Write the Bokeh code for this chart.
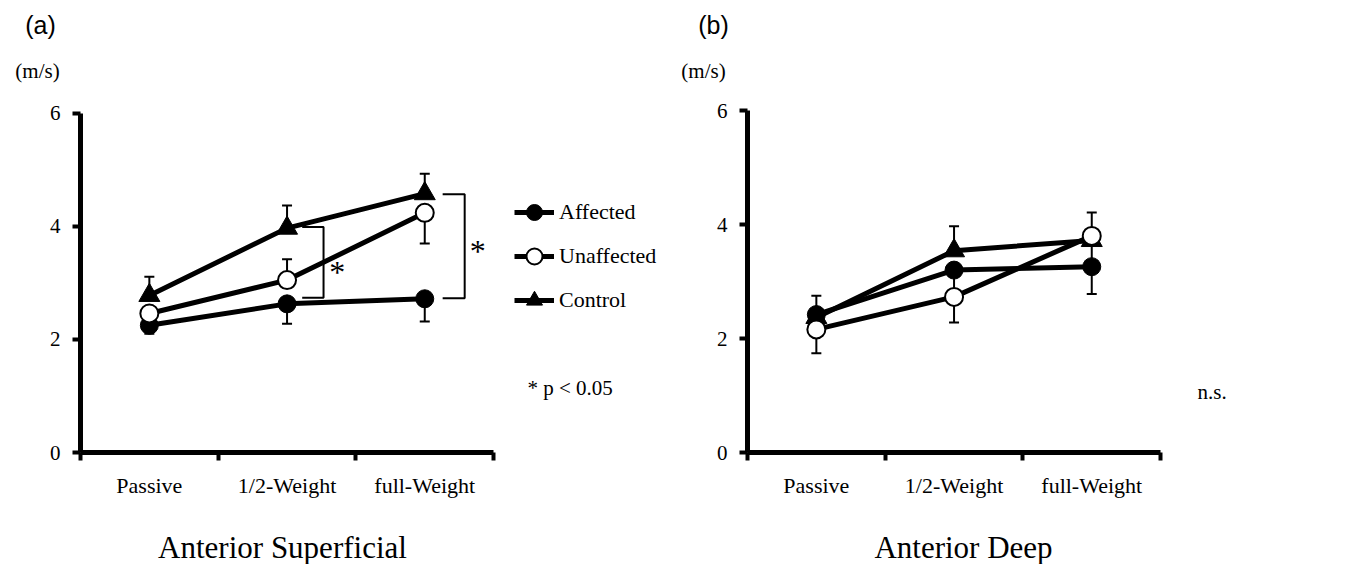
from bokeh.plotting import figure
from bokeh.layouts import row, column
from bokeh.models import (Range1d, FixedTicker, Legend, LegendItem, Label,
                          Whisker, TeeHead, ColumnDataSource)
from bokeh.embed import file_html
from bokeh.resources import INLINE

# ---------------- data ----------------
categories = ["Passive", "1/2-Weight", "full-Weight"]
series_names = ["Affected", "Unaffected", "Control"]
y_ticks = [0, 2, 4, 6]
panel_tags = ["(a)", "(b)"]
panel_titles = ["Anterior Superficial", "Anterior Deep"]
unit_label = "(m/s)"

# Anterior Superficial (m/s); error bars: + drawn upward, - drawn downward
sup_affected = [2.25, 2.63, 2.72]
sup_affected_err = [-0.15, -0.35, -0.40]
sup_unaffected = [2.46, 3.05, 4.24]
sup_unaffected_err = [-0.20, 0.37, -0.54]
sup_control = [2.78, 3.97, 4.58]
sup_control_err = [0.33, 0.40, 0.35]

# Anterior Deep (m/s)
deep_affected = [2.42, 3.20, 3.26]
deep_affected_err = [-0.25, -0.35, -0.48]
deep_unaffected = [2.16, 2.73, 3.80]
deep_unaffected_err = [-0.42, -0.45, -0.45]
deep_control = [2.37, 3.54, 3.72]
deep_control_err = [0.38, 0.43, 0.49]

# significance brackets in panel (a)
sig_categories = ["1/2-Weight", "full-Weight"]
sig_top = [3.99, 4.57]
sig_bottom = [2.74, 2.73]

SERIF = "Liberation Serif"
SANS = "Liberation Sans"
TOTAL_W, TOTAL_H = 1346, 564
TOP_H, BOT_H = 100, 44
W = TOTAL_W // 2
H = TOTAL_H - TOP_H - BOT_H
KX, KY = 137.7, 57.0
RIGHT_PAD = 12
SHIFT = 0.32  # baseline correction (fraction of font size) for rendered text


def text_strip(height, y0):
    """A frame-only figure whose data coordinates are the page pixels."""
    f = figure(width=TOTAL_W, height=height, title=None,
               x_range=Range1d(0, TOTAL_W), y_range=Range1d(y0 + height, y0),
               x_axis_location=None, y_axis_location=None,
               output_backend="svg", toolbar_location=None,
               min_border=0, min_border_left=0, min_border_right=0,
               min_border_top=0, min_border_bottom=0)
    f.grid.visible = False
    f.outline_line_color = None
    f.background_fill_color = "white"
    f.border_fill_color = "white"
    return f


def make_panel(L, B, sets, legend_left, note, note_xy):
    # L: frame left (px, inside this figure); B: frame bottom (page px)
    p = figure(width=W, height=H, title=None,
               x_range=Range1d(0, (W - L - RIGHT_PAD) / KX),
               y_range=Range1d(0, (B - TOP_H) / KY),
               output_backend="svg", toolbar_location=None,
               min_border_left=L, min_border_right=RIGHT_PAD, min_border_top=0,
               min_border_bottom=TOP_H + H - B)
    p.outline_line_color = None
    p.grid.visible = False
    p.background_fill_color = "white"
    p.border_fill_color = "white"

    def dx(px):
        return (px - L) / KX

    def dy(py):
        return (B - py) / KY

    xs = [i + 0.5 for i in range(len(categories))]

    xa = p.xaxis[0]
    xa.ticker = FixedTicker(ticks=xs, minor_ticks=list(range(len(categories) + 1)))
    xa.bounds = (0, len(categories))
    xa.major_label_overrides = {x: c for x, c in zip(xs, categories)}
    xa.axis_line_width = 5
    xa.axis_line_color = "black"
    xa.major_tick_line_color = None
    xa.major_tick_out = 0
    xa.major_tick_in = 0
    xa.minor_tick_out = 8
    xa.minor_tick_in = 0
    xa.minor_tick_line_width = 4
    xa.minor_tick_line_color = "black"
    xa.major_label_standoff = 12
    xa.major_label_text_font = SERIF
    xa.major_label_text_font_size = "22px"
    xa.major_label_text_color = "black"

    ya = p.yaxis[0]
    ya.ticker = FixedTicker(ticks=y_ticks)
    ya.bounds = (min(y_ticks), max(y_ticks))
    ya.axis_line_width = 5
    ya.axis_line_color = "black"
    ya.major_tick_out = 8
    ya.major_tick_in = 0
    ya.major_tick_line_width = 4
    ya.major_tick_line_color = "black"
    ya.minor_tick_line_color = None
    ya.major_label_standoff = 12
    ya.major_label_text_font = SERIF
    ya.major_label_text_font_size = "21px"
    ya.major_label_text_color = "black"

    for vals, errs in sets.values():
        up = dict(base=[], lower=[], upper=[])
        dn = dict(base=[], lower=[], upper=[])
        for x, v, e in zip(xs, vals, errs):
            d = up if e > 0 else dn
            d["base"].append(x)
            d["lower"].append(min(v, v + e))
            d["upper"].append(max(v, v + e))
        p.add_layout(Whisker(source=ColumnDataSource(up), base="base",
                             upper="upper", lower="lower",
                             upper_head=TeeHead(size=10, line_width=2),
                             lower_head=None, line_width=2, line_color="black"))
        p.add_layout(Whisker(source=ColumnDataSource(dn), base="base",
                             upper="upper", lower="lower",
                             lower_head=TeeHead(size=10, line_width=2),
                             upper_head=None, line_width=2, line_color="black"))

    styles = {
        "Affected": dict(marker="circle", size=18, fill_color="black", line_width=1),
        "Unaffected": dict(marker="circle", size=18, fill_color="white", line_width=2),
        "Control": dict(marker="triangle", size=21, fill_color="black", line_width=1),
    }
    rends = {}
    for name in ["Control", "Affected", "Unaffected"]:
        vals, _ = sets[name]
        lr = p.line(xs, vals, line_width=5, line_color="black")
        sr = p.scatter(xs, vals, line_color="black", **styles[name])
        rends[name] = [lr, sr]

    items = [LegendItem(label=n, renderers=rends[n]) for n in series_names]
    leg = Legend(items=items, location=(legend_left - L, B - 325),
                 glyph_width=40, glyph_height=44, spacing=0, padding=0, margin=0,
                 label_standoff=5, label_text_font=SERIF,
                 label_text_font_size="22px", label_text_color="black",
                 border_line_color=None, background_fill_alpha=0)
    p.add_layout(leg)

    p.add_layout(Label(x=dx(note_xy[0]), y=dy(note_xy[1] - SHIFT * 21), text=note,
                       text_font=SERIF, text_font_size="21px",
                       text_align="left", text_baseline="alphabetic",
                       text_color="black"))
    return p


pa = make_panel(80, 455,
                {"Affected": (sup_affected, sup_affected_err),
                 "Unaffected": (sup_unaffected, sup_unaffected_err),
                 "Control": (sup_control, sup_control_err)},
                514, "*  p < 0.05", (527, 397))

# significance brackets on panel (a)
left_off = [0.11, 0.13]
right_off = [0.265, 0.29]
star_off = [0.365, 0.385]
star_base = [3.2, 3.57]
bxs, bys = [], []
for cat, top, bot, lo, ro in zip(sig_categories, sig_top, sig_bottom, left_off, right_off):
    x = categories.index(cat) + 0.5
    bxs.append([x + lo, x + ro, x + ro, x + lo])
    bys.append([top, top, bot, bot])
pa.multi_line(bxs, bys, line_width=2, line_color="black")
for cat, so, sb in zip(sig_categories, star_off, star_base):
    x = categories.index(cat) + 0.5
    pa.add_layout(Label(x=x + so, y=sb, text="*", text_font=SERIF,
                        text_font_size="32px", text_align="center",
                        text_baseline="alphabetic", text_color="black"))

pb = make_panel(74, 452,
                {"Affected": (deep_affected, deep_affected_err),
                 "Unaffected": (deep_unaffected, deep_unaffected_err),
                 "Control": (deep_control, deep_control_err)},
                510 + W, "n.s.", (524, 398))

# top strip: panel tags and unit labels (page pixel coordinates)
top = text_strip(TOP_H, 0)
for tag, tx, ux in zip(panel_tags, [40, 713], [37, 703]):
    top.add_layout(Label(x=tx, y=32 - SHIFT * 25, text=tag, text_font=SANS,
                         text_font_size="25px", text_align="center",
                         text_baseline="alphabetic", text_color="black"))
    top.add_layout(Label(x=ux, y=77 - SHIFT * 21, text=unit_label, text_font=SERIF,
                         text_font_size="21px", text_align="center",
                         text_baseline="alphabetic", text_color="black"))

# bottom strip: panel titles
bot = text_strip(BOT_H, TOP_H + H)
for title, cx in zip(panel_titles, [282, 963]):
    bot.add_layout(Label(x=cx, y=557 - SHIFT * 31, text=title, text_font=SERIF,
                         text_font_size="31px", text_align="center",
                         text_baseline="alphabetic", text_color="black"))

layout = column(top, row(pa, pb), bot)
open("out.html", "w").write(file_html(layout, INLINE))
